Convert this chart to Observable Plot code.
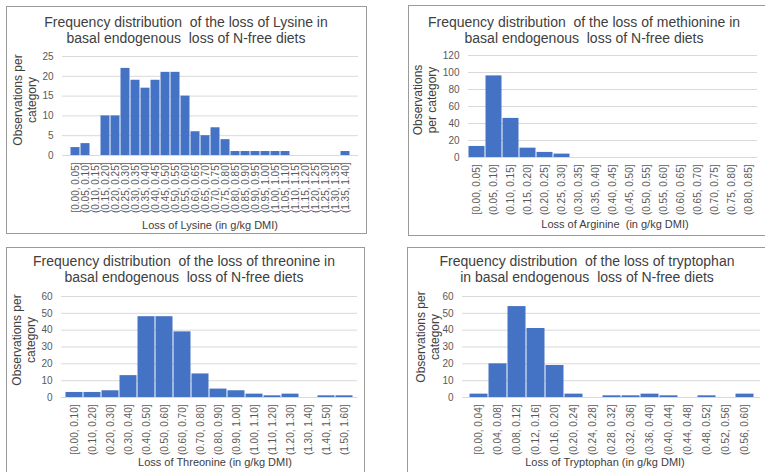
<!DOCTYPE html>
<html>
<head>
<meta charset="utf-8">
<script src="https://cdn.jsdelivr.net/npm/d3@7"></script>
<script src="https://cdn.jsdelivr.net/npm/@observablehq/plot@0.6"></script>
<style>
  body { margin: 0; background: #fff; }
  #root { position: relative; width: 765px; height: 472px; overflow: hidden; background: #fff;
          font-family: "Liberation Sans", Arial, sans-serif; }
  .frame { position: absolute; border: 1px solid #9a9a9a; box-sizing: border-box; }
  .title { position: absolute; transform: translateX(-50%); white-space: pre; text-align: center;
           font-size: 14px; line-height: 16px; color: #404040; }
  .xt { position: absolute; transform: translate(-50%, -50%); white-space: pre; font-size: 11px; color: #404040; }
  .yt { position: absolute; transform: translate(-50%, -50%) rotate(-90deg); white-space: pre; text-align: center;
        font-size: 12px; line-height: 14px; color: #404040; }
  svg { position: absolute; overflow: visible; }
</style>
</head>
<body>
<div id="root"></div>
<script>
// ---- data ----
const lysineBins = ["[0.00, 0.05]","(0.05, 0.10]","(0.10, 0.15]","(0.15, 0.20]","(0.20, 0.25]","(0.25, 0.30]","(0.30, 0.35]","(0.35, 0.40]","(0.40, 0.45]","(0.45, 0.50]","(0.50, 0.55]","(0.55, 0.60]","(0.60, 0.65]","(0.65, 0.70]","(0.70, 0.75]","(0.75, 0.80]","(0.80, 0.85]","(0.85, 0.90]","(0.90, 0.95]","(0.95, 1.00]","(1.00, 1.05]","(1.05, 1.10]","(1.10, 1.15]","(1.15, 1.20]","(1.20, 1.25]","(1.25, 1.30]","(1.30, 1.35]","(1.35, 1.40]"];
const lysineCounts = [2,3,0,10,10,22,19,17,19,21,21,15,6,5,7,4,1,1,1,1,1,1,0,0,0,0,0,1];

const methionineBins = ["[0.00, 0.05]","(0.05, 0.10]","(0.10, 0.15]","(0.15, 0.20]","(0.20, 0.25]","(0.25, 0.30]","(0.30, 0.35]","(0.35, 0.40]","(0.40, 0.45]","(0.45, 0.50]","(0.50, 0.55]","(0.55, 0.60]","(0.60, 0.65]","(0.65, 0.70]","(0.70, 0.75]","(0.75, 0.80]","(0.80, 0.85]"];
const methionineCounts = [13,96,46,11,6,4,0,0,0,0,0,0,0,0,0,0,0];

const threonineBins = ["[0.00, 0.10]","(0.10, 0.20]","(0.20, 0.30]","(0.30, 0.40]","(0.40, 0.50]","(0.50, 0.60]","(0.60, 0.70]","(0.70, 0.80]","(0.80, 0.90]","(0.90, 1.00]","(1.00, 1.10]","(1.10, 1.20]","(1.20, 1.30]","(1.30, 1.40]","(1.40, 1.50]","(1.50, 1.60]"];
const threonineCounts = [3,3,4,13,48,48,39,14,5,4,2,1,2,0,1,1];

const tryptophanBins = ["[0.00, 0.04]","(0.04, 0.08]","(0.08, 0.12]","(0.12, 0.16]","(0.16, 0.20]","(0.20, 0.24]","(0.24, 0.28]","(0.28, 0.32]","(0.32, 0.36]","(0.36, 0.40]","(0.40, 0.44]","(0.44, 0.48]","(0.48, 0.52]","(0.52, 0.56]","(0.56, 0.60]"];
const tryptophanCounts = [2,20,54,41,19,2,0,1,1,2,1,0,1,0,2];

const lysineTicks = [0,5,10,15,20,25];
const methionineTicks = [0,20,40,60,80,100,120];
const threonineTicks = [0,10,20,30,40,50,60];
const tryptophanTicks = [0,10,20,30,40,50,60];

const titles = [
  "Frequency distribution  of the loss of Lysine in\nbasal endogenous  loss of N-free diets",
  "Frequency distribution  of the loss of methionine in\nbasal endogenous  loss of N-free diets",
  "Frequency distribution  of the loss of threonine in\nbasal endogenous  loss of N-free diets",
  "Frequency distribution  of the loss of tryptophan\nin basal endogenous  loss of N-free diets"
];
const xTitles = ["Loss of Lysine (in g/kg DMI)", "Loss of Arginine  (in g/kg DMI)",
                 "Loss of Threonine (in g/kg DMI)", "Loss of Tryptophan (in g/kg DMI)"];
const yTitles = ["Observations per\ncategory", "Observations\nper category",
                 "Observations per\ncategory", "Observations per\ncategory"];

const root = document.getElementById("root");

function add(cls, text, x, y) {
  const d = document.createElement("div");
  d.className = cls; d.textContent = text;
  d.style.left = x + "px"; d.style.top = y + "px";
  root.appendChild(d);
}
function frame(x, y, w, h) {
  const d = document.createElement("div");
  d.className = "frame";
  Object.assign(d.style, {left: x + "px", top: y + "px", width: w + "px", height: h + "px"});
  root.appendChild(d);
}

function panel(p) {
  const data = p.bins.map((b, i) => ({bin: b, n: p.counts[i]}));
  const svg = Plot.plot({
    width: p.w, height: p.h,
    marginLeft: p.ml, marginRight: p.mr, marginTop: p.mt, marginBottom: p.mb,
    style: {fontFamily: "'Liberation Sans', Arial, sans-serif", fontSize: "10px", color: "#595959", background: "transparent"},
    x: {domain: p.bins, padding: 0},
    y: {domain: [0, p.ticks[p.ticks.length - 1]]},
    marks: [
      Plot.ruleY(p.ticks, {stroke: "#d9d9d9", strokeWidth: 1}),
      Plot.barY(data, {x: "bin", y: "n", fill: "#4472C4", insetLeft: 0.5, insetRight: 0.5}),
      Plot.axisX({tickRotate: -90, tickSize: 0, tickPadding: 7, label: null}),
      Plot.axisY({ticks: p.ticks, tickSize: 0, tickPadding: 9, label: null})
    ]
  });
  svg.style.left = p.x + "px";
  svg.style.top = p.y + "px";
  root.appendChild(svg);
}

// frames
frame(6, 6, 361, 228);
frame(408, 5, 400, 231);
frame(6, 247, 359, 260);
frame(407, 247, 400, 260);

panel({x: 7, y: 6, w: 359, h: 227, ml: 55, mr: 8, mt: 50, mb: 78, bins: lysineBins, counts: lysineCounts, ticks: lysineTicks});
panel({x: 408, y: 6, w: 357, h: 229, ml: 60, mr: 8, mt: 49, mb: 78, bins: methionineBins, counts: methionineCounts, ticks: methionineTicks});
panel({x: 7, y: 247, w: 357, h: 225, ml: 54, mr: 7, mt: 49, mb: 75, bins: threonineBins, counts: threonineCounts, ticks: threonineTicks});
panel({x: 407, y: 247, w: 358, h: 225, ml: 55, mr: 5, mt: 49, mb: 75, bins: tryptophanBins, counts: tryptophanCounts, ticks: tryptophanTicks});

// titles
add("title", titles[0], 186, 14);
add("title", titles[1], 584, 14);
add("title", titles[2], 184, 253);
add("title", titles[3], 587, 253);

add("xt", xTitles[0], 210, 225);
add("xt", xTitles[1], 615, 224);
add("xt", xTitles[2], 215, 462);
add("xt", xTitles[3], 605, 462);

add("yt", yTitles[0], 25, 100);
add("yt", yTitles[1], 425, 100);
add("yt", yTitles[2], 24, 340);
add("yt", yTitles[3], 428, 337);
</script>
</body>
</html>
